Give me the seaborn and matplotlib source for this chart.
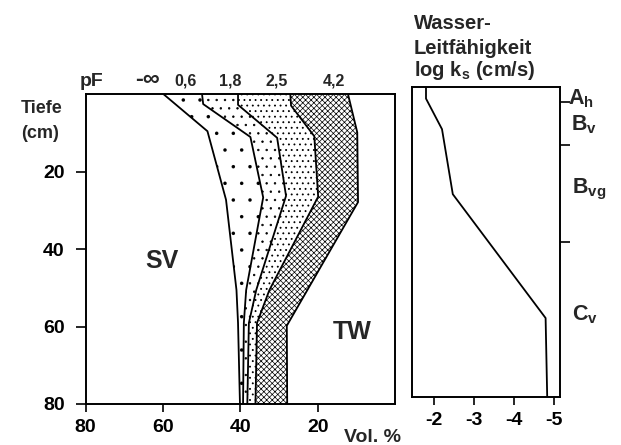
import numpy as np
import pandas as pd
import matplotlib
matplotlib.use("Agg")
import matplotlib.pyplot as plt
import matplotlib.transforms as mtransforms
import seaborn as sns

# --- pF curves: water content (Vol. %) against depth (cm) ---------------
pf_labels = ["0,6", "1,8", "2,5", "4,2"]
pf_label_pos = [54.2, 42.6, 30.6, 15.8]      # Vol. % position of the pF labels

depth_inf = [0, 9.6, 27.3, 50.6, 59.1, 80]
vol_inf = [59.9, 48.5, 43.7, 41.0, 40.6, 40.1]

depth_06 = [0, 2.6, 11.1, 26.7, 50.6, 59.1, 80]
vol_06 = [49.9, 49.6, 37.4, 34.1, 38.5, 39.1, 39.3]

depth_18 = [0, 2.8, 11.3, 26.3, 50.6, 59.1, 80]
vol_18 = [40.6, 40.6, 30.5, 28.2, 35.9, 37.8, 38.2]

depth_25 = [0, 3.0, 10.9, 26.5, 50.6, 59.1, 80]
vol_25 = [27.1, 26.9, 20.9, 19.9, 32.5, 35.7, 36.1]

depth_42 = [0, 9.9, 27.9, 59.8, 80]
vol_42 = [12.2, 9.8, 9.6, 28.0, 27.9]

# --- saturated hydraulic conductivity ------------------------------------
depth_ks = [0, 3.0, 10.9, 27.7, 59.7, 80]
log_ks = [-1.81, -1.81, -2.21, -2.48, -4.80, -4.84]

# --- soil horizons --------------------------------------------------------
horizon_labels = [r"$\mathbf{A_h}$", r"$\mathbf{B_v}$", r"$\mathbf{B_{vg}}$", r"$\mathbf{C_v}$"]
horizon_label_depth = [4.5, 11.1, 27.5, 60.2]
horizon_bounds = [4, 15, 40]

vol_ticks = [80, 60, 40, 20]
depth_ticks = [20, 40, 60, 80]
ks_ticks = [-2, -3, -4, -5]

sns.set_theme(style="ticks")
plt.rcParams["font.family"] = ["Liberation Sans", "DejaVu Sans"]
plt.rcParams["font.weight"] = "bold"
plt.rcParams["mathtext.fontset"] = "custom"
plt.rcParams["mathtext.rm"] = "Liberation Sans:bold"
plt.rcParams["mathtext.bf"] = "Liberation Sans:bold"
plt.rcParams["mathtext.it"] = "Liberation Sans:bold"
plt.rcParams["hatch.color"] = "black"
plt.rcParams["axes.linewidth"] = 1.4

fig = plt.figure(figsize=(6.21, 4.45), dpi=100)
W, H = 621, 445
ax = fig.add_axes([85.5 / W, (H - 404) / H, 309.7 / W, 310 / H])
ax2 = fig.add_axes([412 / W, (H - 396.6) / H, 148 / W, 309.6 / H])

# shaded pore-size classes between neighbouring pF curves
curves = [(vol_inf, depth_inf), (vol_06, depth_06), (vol_18, depth_18),
          (vol_25, depth_25), (vol_42, depth_42)]
hatches = [".", "..", "...", "xxxxxx"]
hatch_lw = [0.1, 0.5, 0.6, 0.5]
for (xa, ya), (xb, yb), h, hl in zip(curves[:-1], curves[1:], hatches, hatch_lw):
    px = np.r_[xa, xb[::-1]]
    py = np.r_[ya, yb[::-1]]
    with plt.rc_context({"hatch.linewidth": hl}):
        ax.fill(px, py, facecolor="white", edgecolor="black", hatch=h, linewidth=0)

for xv, yv in curves:
    sns.lineplot(x=xv, y=yv, ax=ax, sort=False, estimator=None,
                 color="black", linewidth=1.3)

ax.set_xlim(80, 0)
ax.set_ylim(80, 0)
ax.set_xticks(vol_ticks)
ax.set_xticklabels([str(v) for v in vol_ticks])
ax.set_yticks(depth_ticks)
ax.set_yticklabels([str(v) for v in depth_ticks])
ax.set_xlabel("")
ax.set_ylabel("")
ax.tick_params(axis="x", length=6, width=1.2, pad=5, labelsize=14, colors="black")
ax.tick_params(axis="y", length=7, width=1.2, pad=8, labelsize=14, colors="black")
for s in ax.spines.values():
    s.set_color("black")

ax.text(60.2, 43, "SV", fontsize=18, fontweight="bold", ha="center", va="center")
ax.text(11.0, 61.5, "TW", fontsize=18, fontweight="bold", ha="center", va="center")
ax.text(0.835, -0.1226, "Vol. %", transform=ax.transAxes, fontsize=14,
        fontweight="bold", ha="left", va="baseline")

# pF labels above the panel
top = mtransforms.blended_transform_factory(ax.transData, ax.transAxes)
ax.text(78.5, 1.026, "pF", transform=top, fontsize=14, fontweight="bold",
        ha="center", va="baseline")
ax.text(64.1, 1.026, "-\u221e", transform=top, fontsize=17, fontweight="bold",
        ha="center", va="baseline")
for lab, xp in zip(pf_labels, pf_label_pos):
    ax.text(xp, 1.026, lab, transform=top, fontsize=11.5, fontweight="bold",
            ha="center", va="baseline")

fig.text(42 / W, (H - 108.6) / H, "Tiefe", fontsize=13, fontweight="bold",
         ha="center", va="center")
fig.text(40 / W, (H - 133.1) / H, "(cm)", fontsize=13, fontweight="bold",
         ha="center", va="center")

# conductivity panel
sns.lineplot(x=log_ks, y=depth_ks, ax=ax2, sort=False, estimator=None,
             color="black", linewidth=1.3)
ax2.set_xlim(-1.46, -5.16)
ax2.set_ylim(80, 0)
ax2.set_xticks(ks_ticks)
ax2.set_xticklabels([str(v) for v in ks_ticks])
ax2.set_xlabel("")
ax2.set_ylabel("")
ax2.yaxis.tick_right()
ax2.set_yticks(horizon_bounds)
ax2.set_yticklabels([])
ax2.tick_params(axis="x", length=6, width=1.2, pad=5, labelsize=14, colors="black")
ax2.tick_params(axis="y", length=7, width=1.2, colors="black")
for s in ax2.spines.values():
    s.set_color("black")

side = mtransforms.blended_transform_factory(ax2.transAxes, ax2.transData)
for lab, d, xo in zip(horizon_labels, horizon_label_depth, [1.054, 1.075, 1.081, 1.081]):
    ax2.text(xo, d, lab, transform=side, fontsize=15.5, ha="left", va="baseline")

fig.text(414 / W, (H - 29.4) / H, "Wasser-", fontsize=14.5, fontweight="bold",
         ha="left", va="baseline")
fig.text(414 / W, (H - 54.4) / H, "Leitfähigkeit", fontsize=14.5, fontweight="bold",
         ha="left", va="baseline")
fig.text(414 / W, (H - 76.4) / H, r"log $\mathbf{k_s}$ (cm/s)", fontsize=14.5,
         fontweight="bold", ha="left", va="baseline")

fig.savefig("out.png", dpi=100, facecolor="white")
